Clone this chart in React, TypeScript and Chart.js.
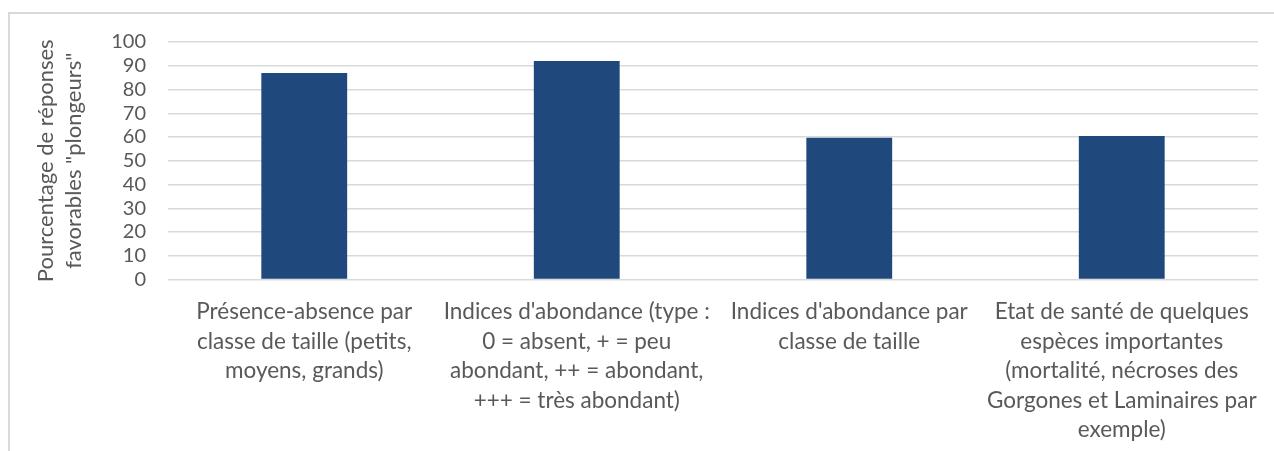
import React, { useEffect, useRef } from "react";
import { Chart, registerables } from "chart.js";

Chart.register(...registerables);

const categories: string[][] = [
  ["Présence-absence par", "classe de taille (petits,", "moyens, grands)"],
  ["Indices d'abondance (type :", "0 = absent, + = peu", "abondant, ++ = abondant,", "+++ = très abondant)"],
  ["Indices d'abondance par", "classe de taille"],
  ["Etat de santé de quelques", "espèces importantes", "(mortalité, nécroses des", "Gorgones et Laminaires par", "exemple)"],
];
const values: number[] = [87, 92, 59.7, 60.4];
const yTitle: string[] = ["Pourcentage de réponses", "favorables \"plongeurs\""];
const yMin = 0;
const yMax = 100;
const yStep = 10;

const FONT = "Lato, 'Open Sans', sans-serif";
const TEXT = "#595959";

export default function App() {
  const ref = useRef<HTMLCanvasElement | null>(null);
  useEffect(() => {
    if (!ref.current) return;
    const chart = new Chart(ref.current, {
      type: "bar",
      data: {
        labels: categories,
        datasets: [
          {
            data: values,
            backgroundColor: "#1f497d",
            borderWidth: 0,
            categoryPercentage: 1,
            barPercentage: 0.315,
          },
        ],
      },
      options: {
        animation: false,
        responsive: true,
        maintainAspectRatio: false,
        layout: { padding: { top: 42, right: 16, left: 32, bottom: 0 } },
        plugins: { legend: { display: false }, tooltip: { enabled: false } },
        scales: {
          x: {
            grid: { display: false },
            border: { display: false },
            ticks: {
              color: TEXT,
              font: { family: FONT, size: 22.5, lineHeight: 1.31 },
              padding: 10,
              maxRotation: 0,
              autoSkip: false,
            },
            afterFit: (s: any) => {
              s.height = 451 - 279.5;
            },
          },
          y: {
            min: yMin,
            max: yMax,
            ticks: {
              stepSize: yStep,
              autoSkip: false,
              color: TEXT,
              font: { family: FONT, size: 20, lineHeight: 1.2 },
              padding: 22,
            },
            grid: { color: "#d9d9d9", lineWidth: 1.5, drawTicks: false },
            border: { display: false },
            title: {
              display: true,
              text: yTitle,
              color: TEXT,
              font: { family: FONT, size: 22, lineHeight: 1.27 },
              padding: { top: 0, bottom: 6 },
            },
            afterFit: (s: any) => {
              s.width = 168 - 32;
            },
          },
        },
      },
    });
    return () => chart.destroy();
  }, []);

  return (
    <div style={{ position: "fixed", left: 0, top: 0, width: 1274, height: 451, overflow: "hidden", background: "#fff" }}>
      <div
        style={{
          position: "absolute",
          left: 8,
          top: 12,
          width: 1266,
          height: 439,
          borderTop: "2px solid #d9d9d9",
          borderLeft: "2px solid #d9d9d9",
          boxSizing: "border-box",
        }}
      />
      <div style={{ position: "absolute", left: 0, top: 0, width: 1274, height: 451 }}>
        <canvas ref={ref} />
      </div>
    </div>
  );
}
